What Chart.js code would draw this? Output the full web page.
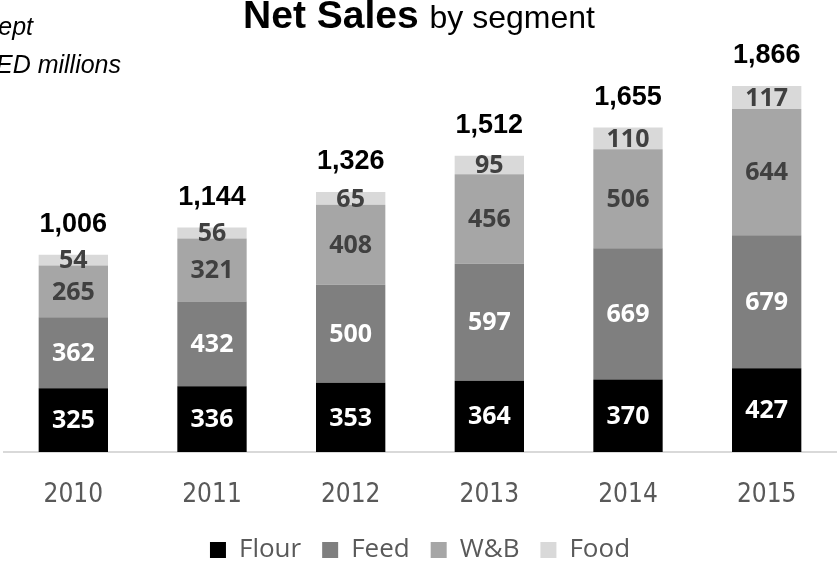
<!DOCTYPE html>
<html>
<head>
<meta charset="utf-8">
<script src="https://cdn.jsdelivr.net/npm/chart.js@4.4.0/dist/chart.umd.min.js"></script>
<style>
  html, body { margin: 0; padding: 0; background: #fff; }
  #wrap { width: 838px; height: 562px; }
</style>
</head>
<body>
<div id="wrap"><canvas id="chart"></canvas></div>
<script>
const years = ['2010', '2011', '2012', '2013', '2014', '2015'];
const flour = [325, 336, 353, 364, 370, 427];
const feed = [362, 432, 500, 597, 669, 679];
const wb = [265, 321, 408, 456, 506, 644];
const food = [54, 56, 65, 95, 110, 117];
const totals = [1006, 1144, 1326, 1512, 1655, 1866];

const segFont = 'bold 25px "Open Sans", sans-serif';
const labelColors = ['#ffffff', '#ffffff', '#404040', '#404040'];

// title, side note, values inside each segment and totals on top
const annotate = {
  id: 'annotate',
  afterDatasetsDraw(chart) {
    const ctx = chart.ctx;
    const y = chart.scales.y;
    ctx.save();
    ctx.textAlign = 'center';
    ctx.textBaseline = 'middle';
    ctx.font = segFont;
    chart.data.datasets.forEach((ds, i) => {
      const meta = chart.getDatasetMeta(i);
      ctx.fillStyle = labelColors[i];
      meta.data.forEach((bar, j) => {
        const mid = (bar.y + bar.base) / 2;
        ctx.fillText(ds.data[j], bar.x, mid + 1);
      });
    });

    ctx.font = 'bold 27px "Liberation Sans", Arial, sans-serif';
    ctx.fillStyle = '#000';
    ctx.textBaseline = 'alphabetic';
    const first = chart.getDatasetMeta(0);
    totals.forEach((t, j) => {
      const x = first.data[j].x;
      ctx.fillText(t.toLocaleString('en-US'), x, y.getPixelForValue(t) - 23);
    });

    // title: bold part + regular part, centred together
    const bold = 'bold 39px "Liberation Sans", Arial, sans-serif';
    const norm = '32px "Liberation Sans", Arial, sans-serif';
    ctx.font = bold;
    const w1 = ctx.measureText('Net Sales ').width;
    ctx.font = norm;
    const w2 = ctx.measureText('by segment').width;
    let x0 = chart.width / 2 - (w1 + w2) / 2;
    ctx.textAlign = 'left';
    ctx.fillStyle = '#000';
    ctx.font = bold;
    ctx.fillText('Net Sales ', x0, 28);
    ctx.font = norm;
    ctx.fillText('by segment', x0 + w1, 28);

    ctx.font = 'italic 25px "Liberation Sans", Arial, sans-serif';
    ctx.textAlign = 'right';
    ctx.fillText('Except', 33, 35);
    ctx.fillText('AED millions', 121, 73);
    ctx.restore();
  }
};

new Chart(document.getElementById('chart'), {
  type: 'bar',
  data: {
    labels: years,
    datasets: [
      { label: 'Flour', data: flour, backgroundColor: '#000000' },
      { label: 'Feed', data: feed, backgroundColor: '#7f7f7f' },
      { label: 'W&B', data: wb, backgroundColor: '#a6a6a6' },
      { label: 'Food', data: food, backgroundColor: '#d9d9d9' }
    ]
  },
  options: {
    responsive: true,
    maintainAspectRatio: false,
    animation: false,
    datasets: {
      bar: { categoryPercentage: 0.5, barPercentage: 1, borderWidth: 0 }
    },
    layout: { padding: { top: 60, left: 4, right: 2, bottom: -11 } },
    scales: {
      x: {
        stacked: true,
        grid: { display: false, tickLength: 22 },
        border: { color: '#d9d9d9', width: 2 },
        ticks: {
          color: '#595959',
          padding: 8,
          font: { family: '"Liberation Sans Narrow", "DejaVu Sans Condensed", "Open Sans", sans-serif', size: 26, lineHeight: 1 }
        }
      },
      y: {
        stacked: true,
        display: false,
        min: 0,
        max: 2000
      }
    },
    plugins: {
      title: { display: false },
      tooltip: { enabled: false },
      legend: {
        position: 'bottom',
        labels: {
          boxWidth: 16,
          boxHeight: 16,
          padding: 21,
          color: '#595959',
          font: { family: '"Open Sans", sans-serif', size: 26 }
        }
      }
    }
  },
  plugins: [annotate]
});
</script>
</body>
</html>
